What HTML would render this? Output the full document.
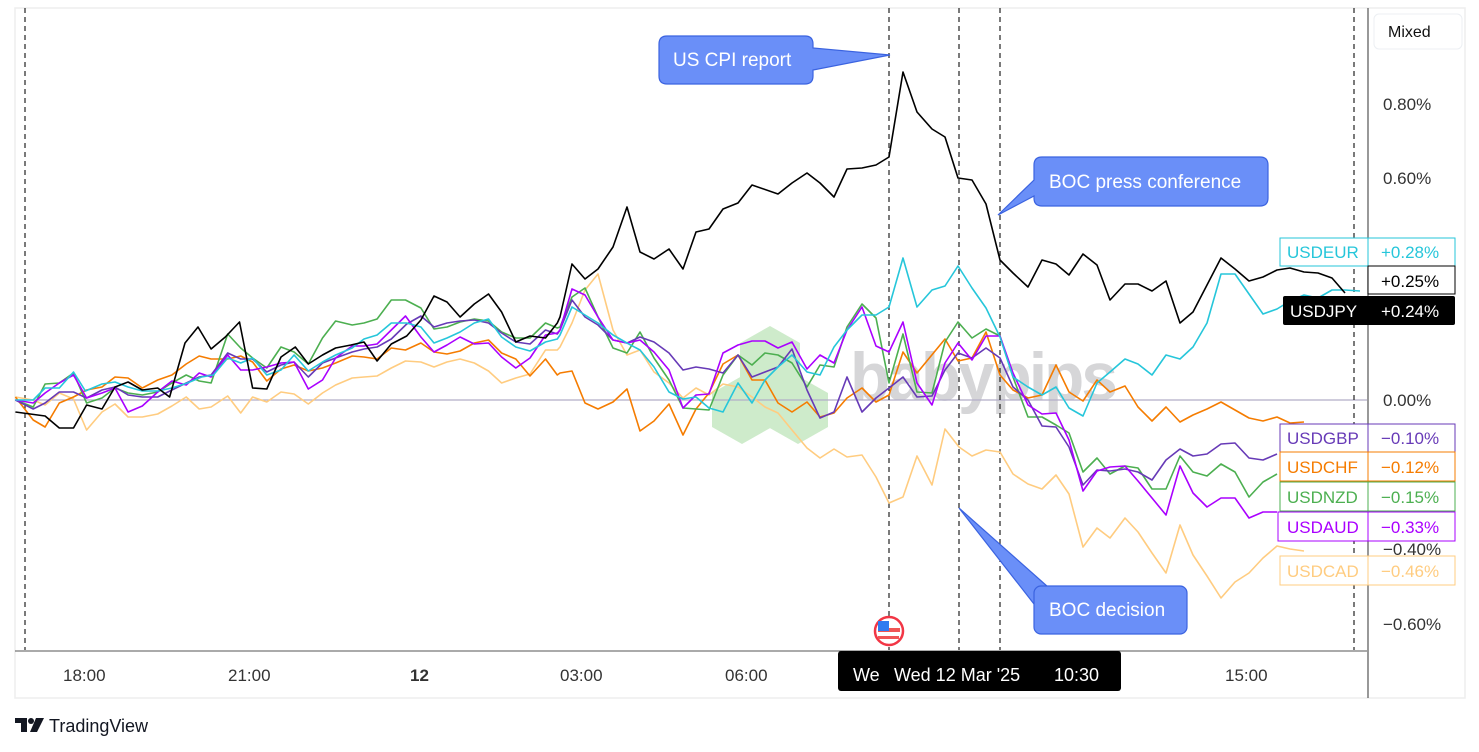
<!DOCTYPE html>
<html><head><meta charset="utf-8"><style>
html,body{margin:0;padding:0;background:#fff;width:1479px;height:752px;overflow:hidden}
svg{display:block;font-family:"Liberation Sans","DejaVu Sans",sans-serif}
</style></head><body>
<svg width="1479" height="752" viewBox="0 0 1479 752" xmlns="http://www.w3.org/2000/svg">
<rect x="15" y="8" width="1450" height="690" fill="#fff" stroke="#eeeeee" stroke-width="1.5"/>
<g fill="#c6e8c2" opacity="0.85">
<polygon points="770,326 800,343 800,377 770,394 740,377 740,343"/>
<polygon points="742,376 772,393 772,427 742,444 712,427 712,393"/>
<polygon points="798,376 828,393 828,427 798,444 768,427 768,393"/>
</g>
<text x="850" y="400" font-size="68" font-weight="bold" fill="#d6d6d8" letter-spacing="-3" textLength="265" lengthAdjust="spacingAndGlyphs">babypips</text>
<line x1="15" y1="400" x2="1367" y2="400" stroke="#b2aec8" stroke-width="1.2"/>
<g stroke="#222" stroke-width="1.2" stroke-dasharray="5,4">
<line x1="25" y1="8" x2="25" y2="650"/>
<line x1="889" y1="8" x2="889" y2="650"/>
<line x1="959" y1="8" x2="959" y2="650"/>
<line x1="1000" y1="8" x2="1000" y2="650"/>
<line x1="1354" y1="8" x2="1354" y2="650"/>
</g>
<g id="series" fill="none" stroke-width="1.6" stroke-linejoin="round"></g>
<g fill="#6a8ff8" stroke="#3b63e0" stroke-width="1.2">
<path d="M667,36 H805 Q813,36 813,44 V48 L890,55 L813,70 V76 Q813,84 805,84 H667 Q659,84 659,76 V44 Q659,36 667,36 Z"/>
<path d="M1042,157 H1260 Q1268,157 1268,165 V198 Q1268,206 1260,206 H1042 Q1034,206 1034,198 V196 L998,215 L1034,180 V165 Q1034,157 1042,157 Z"/>
</g>
<polygon points="959,508 1048,587 1034,604" fill="#6a8ff8" stroke="#3b63e0" stroke-width="1.2"/>
<rect x="1034" y="586" width="153" height="48" rx="7" fill="#6a8ff8" stroke="#3b63e0" stroke-width="1.2"/>
<polygon points="1036,598 1046,587 1050,600" fill="#6a8ff8"/>
<g fill="#fff" font-size="19">
<text x="673" y="66">US CPI report</text>
<text x="1049" y="188">BOC press conference</text>
<text x="1049" y="616">BOC decision</text>
</g>
<line x1="15" y1="651" x2="1367" y2="651" stroke="#555" stroke-width="1"/>
<line x1="1368" y1="8" x2="1368" y2="698" stroke="#555" stroke-width="1.2"/>
<g font-size="17" fill="#333">
<text x="63" y="681">18:00</text>
<text x="228" y="681">21:00</text>
<text x="410" y="681" font-weight="bold">12</text>
<text x="560" y="681">03:00</text>
<text x="725" y="681">06:00</text>
<text x="1225" y="681">15:00</text>
</g>
<rect x="838" y="651" width="283" height="40" rx="3" fill="#000"/>
<g font-size="18" fill="#fff"><text x="853" y="681">We</text><text x="894" y="681">Wed 12 Mar '25</text><text x="1054" y="681">10:30</text></g>
<circle cx="889" cy="631" r="14" fill="#fff" stroke="#f23645" stroke-width="2.5"/>
<path d="M878,628 H900 V632 H878 Z M878,636 H899 V639 H878 Z" fill="#f05555"/>
<rect x="878" y="621" width="11" height="10" fill="#2f7bf0"/>
<g font-size="17" fill="#333">
<text x="1383" y="110">0.80%</text>
<text x="1383" y="184">0.60%</text>
<text x="1383" y="323">0.20%</text>
<text x="1383" y="406">0.00%</text>
<text x="1383" y="555">−0.40%</text>
<text x="1383" y="630">−0.60%</text>
</g>
<rect x="1374" y="14" width="88" height="35" rx="5" fill="#fff" stroke="#eceff3"/>
<text x="1388" y="37" font-size="16" fill="#111">Mixed</text>
<g font-size="17">
<rect x="1280" y="238" width="88" height="28" fill="#fff" stroke="#26c6da"/>
<rect x="1368" y="238" width="87" height="28" fill="#fff" stroke="#26c6da"/>
<text x="1287" y="258" fill="#26c6da">USDEUR</text><text x="1381" y="258" fill="#26c6da">+0.28%</text>
<rect x="1368" y="266" width="87" height="28" fill="#fff" stroke="#000"/>
<text x="1381" y="287" fill="#000">+0.25%</text>
<rect x="1283" y="296" width="172" height="29" rx="2" fill="#000"/>
<text x="1290" y="317" fill="#fff">USDJPY</text><text x="1381" y="317" fill="#fff">+0.24%</text>
<rect x="1280" y="424" width="88" height="28" fill="#fff" stroke="#673ab7"/>
<rect x="1368" y="424" width="87" height="28" fill="#fff" stroke="#673ab7"/>
<text x="1287" y="444" fill="#673ab7">USDGBP</text><text x="1381" y="444" fill="#673ab7">−0.10%</text>
<rect x="1280" y="452" width="88" height="29" fill="#fff" stroke="#f57c00"/>
<rect x="1368" y="452" width="87" height="29" fill="#fff" stroke="#f57c00"/>
<text x="1287" y="473" fill="#f57c00">USDCHF</text><text x="1381" y="473" fill="#f57c00">−0.12%</text>
<rect x="1280" y="482" width="88" height="29" fill="#fff" stroke="#4caf50"/>
<rect x="1368" y="482" width="87" height="29" fill="#fff" stroke="#4caf50"/>
<text x="1287" y="503" fill="#4caf50">USDNZD</text><text x="1381" y="503" fill="#4caf50">−0.15%</text>
<rect x="1278" y="512" width="90" height="29" fill="#fff" stroke="#aa00ff"/>
<rect x="1368" y="512" width="87" height="29" fill="#fff" stroke="#aa00ff"/>
<text x="1287" y="533" fill="#aa00ff">USDAUD</text><text x="1381" y="533" fill="#aa00ff">−0.33%</text>
<rect x="1280" y="556" width="88" height="29" fill="#fff" stroke="#ffcc80"/>
<rect x="1368" y="556" width="87" height="29" fill="#fff" stroke="#ffcc80"/>
<text x="1287" y="577" fill="#ffcc80">USDCAD</text><text x="1381" y="577" fill="#ffcc80">−0.46%</text>
</g>
<g fill="#131722">
<path d="M15,718 H27 V732 H21 V723 H15 Z"/>
<circle cx="31" cy="721" r="3"/>
<path d="M36,718 H44 L37,732 H30 Z"/>
</g>
<text x="49" y="732" font-size="18" fill="#131722">TradingView</text>
</svg>
<script>
var S=[
["#ffcc80","13,397 28,400 38,405 50,393 62,399 73,430 86,412 97,404 108,417 120,417 133,414 145,406 157,397 168,409 178,407 192,396 203,413 213,397 225,402 237,392 248,394 260,404 272,393 283,385 297,378 307,377 318,376 330,368 342,361 355,362 366,367 377,362 388,359 400,363 412,371 423,383 435,378 447,374 460,350 470,350","560,347 572,323 585,290 598,274 613,330 627,355 640,350 654,372 669,383 683,398 696,388 709,395 723,384 738,387 752,397 765,407 778,413 792,430 807,448 820,458 834,449 847,457 862,455 876,477 889,503 903,497 917,456 932,485 945,429 959,447 972,456 986,450 1000,452 1013,474 1028,484 1042,489 1056,475 1069,494 1083,547 1097,528 1110,538 1125,518 1138,532 1152,553 1166,573 1180,525 1193,555 1207,576 1221,598 1235,582 1249,573 1263,558 1277,546 1290,549 1304,551"],
["#f57c00","13,397 28,420 38,427 50,403 62,397 73,390 86,387 97,377 108,378 120,388 133,380 145,375 157,364 168,356 178,359 192,359 203,356 213,362 225,381 237,369 248,365 260,371 272,368 283,363 297,356 307,357 318,359 330,348 342,350 355,343 366,352 377,354 388,351 400,343 412,340 423,353 435,359 447,376 460,359 470,375","560,373 572,371 585,403 598,409 613,402 627,389 640,431 654,421 669,404 683,435 696,409 709,393 723,364 738,355 752,380 765,380 778,403 792,412 807,402 820,417 834,413 847,398 862,388 876,402 889,395 903,352 917,373 945,339 958,361 972,358 986,332 1000,375 1013,390 1028,398 1042,395 1056,365 1069,392 1083,401 1097,380 1110,392 1125,386 1138,407 1152,421 1166,407 1180,422 1193,415 1207,409 1221,402 1235,410 1249,418 1263,421 1277,417 1290,423 1304,422"],
["#4caf50","13,400 28,407 38,384 50,383 62,373 73,403 86,398 97,388 108,393 120,395 133,392 145,383 157,375 168,381 178,383 192,334 203,348 213,358 225,368 237,347 248,352 260,364 272,338 283,321 297,325 307,323 318,319 330,300 342,300 355,308 366,329 377,327 388,322 400,319 412,321 423,332 435,338 447,338 460,323 470,328","560,327 572,297 585,288 598,317 613,348 627,353 640,332 654,358 669,380 683,408 709,410 723,375 738,355 752,365 765,353 778,355 792,363 807,387 820,365 834,367 847,327 862,304 876,318 889,383 903,334 917,392 932,393 945,342 958,322 972,338 986,329 1000,336 1013,377 1028,417 1042,417 1056,425 1069,433 1083,472 1097,458 1110,474 1125,466 1138,468 1152,489 1166,489 1180,456 1193,472 1207,476 1221,464 1235,472 1249,497 1263,482 1277,474"],
["#673ab7","13,400 28,409 38,403 50,392 62,392 73,398 86,390 97,387 108,395 120,397 133,397 145,390 157,383 168,377 178,375 192,353 203,359 213,359 225,372 237,365 248,362 260,377 272,363 283,358 297,352 307,349 318,347 330,339 343,324 355,316 366,327 377,323 388,321 400,320 412,323 423,333 435,342 447,344 460,330 470,334","560,330 572,300 585,317 598,325 613,340 627,343 640,337 654,342 669,353 683,370 696,367 709,369 723,373 738,355 752,377 778,367 792,349 807,390 820,418 834,412 847,377 862,412 876,398 889,388 903,377 917,397 932,396 945,370 958,353 972,358 986,348 1000,358 1013,387 1028,400 1042,426 1056,427 1069,447 1083,485 1097,470 1110,471 1125,469 1138,472 1152,480 1166,460 1180,449 1193,456 1207,454 1221,444 1235,443 1249,458 1263,460 1277,454"],
["#aa00ff","13,400 28,403 38,393 50,383 62,375 73,398 86,393 97,388 108,412 120,406 133,392 145,381 157,385 168,373 178,377 192,355 203,370 213,370 225,367 237,363 248,362 260,389 272,380 283,358 297,346 307,346 318,344 330,330 342,316 355,337 366,352 377,345 388,337 400,344 412,343 423,357 435,368 447,358 460,335 470,333","560,330 572,289 585,295 598,317 613,340 627,343 640,340 654,352 669,370 683,408 696,395 709,394 723,353 738,345 752,341 765,341 778,348 792,342 807,369 820,355 834,363 847,330 862,307 876,346 889,352 903,322 917,383 932,405 945,363 958,343 972,360 986,336 1000,336 1013,373 1028,405 1042,414 1056,413 1069,440 1083,491 1097,471 1110,467 1125,466 1138,481 1152,498 1166,515 1180,466 1193,493 1207,507 1221,498 1235,498 1249,518 1263,512 1277,512"],
["#26c6da","13,400 28,400 38,388 50,388 62,372 72,391 86,384 97,382 108,387 120,391 133,391 145,388 158,383 170,377 180,375 192,358 203,363 213,358 225,375 237,370 248,355 260,371 272,362 283,355 297,348 307,339 318,335 330,323 343,323 355,327 366,343 377,338 388,332 400,323 412,319 423,337 435,347 447,351 460,342 470,339","560,335 572,307 585,315 598,323 613,335 627,343 640,350 654,367 669,392 683,399 696,397 709,408 723,412 738,383 752,403 765,380 778,367 792,355 807,372 820,375 834,347 847,330 862,315 876,315 889,307 903,258 917,307 932,290 945,286 958,266 972,288 986,308 1000,337 1013,377 1028,387 1042,395 1056,387 1069,408 1083,416 1097,383 1110,372 1125,359 1138,364 1152,375 1166,355 1180,359 1193,347 1207,323 1221,274 1235,274 1249,294 1263,314 1277,309 1290,301 1304,295 1318,298 1332,290 1345,290 1360,291"],
["#000","13,412 38,416 50,428 62,428 73,405 86,409 97,387 108,382 120,390 133,388 143,397 156,343 167,327 178,349 190,337 202,322 213,388 225,389 237,357 249,347 260,364 272,355 283,348 296,345 307,342 318,361 330,344 343,336 355,320 366,296 377,302 388,317 400,304 412,294 423,312 435,342 447,336 460,338 470,323","560,317 572,264 585,279 598,269 613,247 627,207 640,252 654,259 669,249 683,269 696,232 709,229 723,209 738,203 752,185 778,194 792,183 807,173 820,183 834,197 847,169 862,168 876,165 889,157 903,72 917,112 932,129 945,137 958,178 972,180 986,204 1000,260 1013,273 1028,287 1042,260 1056,264 1069,275 1083,254 1097,265 1110,300 1125,284 1138,284 1152,291 1166,281 1180,323 1193,312 1207,285 1221,258 1235,269 1249,281 1263,277 1277,270 1290,268 1304,272 1318,273 1332,278 1345,293"]
];
var g=document.getElementById('series'),k=3/2.53,out='';
S.forEach(function(s){
 var e=s[1].split(' ').map(function(p){var a=p.split(',');return [(+a[0])*k,+a[1]];}).filter(function(p){return p[0]<558;});
 var pts=e.map(function(p){return p[0].toFixed(1)+','+p[1];}).join(' ')+' '+s[2];
 out+='<polyline stroke="'+s[0]+'" points="'+pts+'"/>';
});
g.innerHTML=out;
</script>
</body></html>
